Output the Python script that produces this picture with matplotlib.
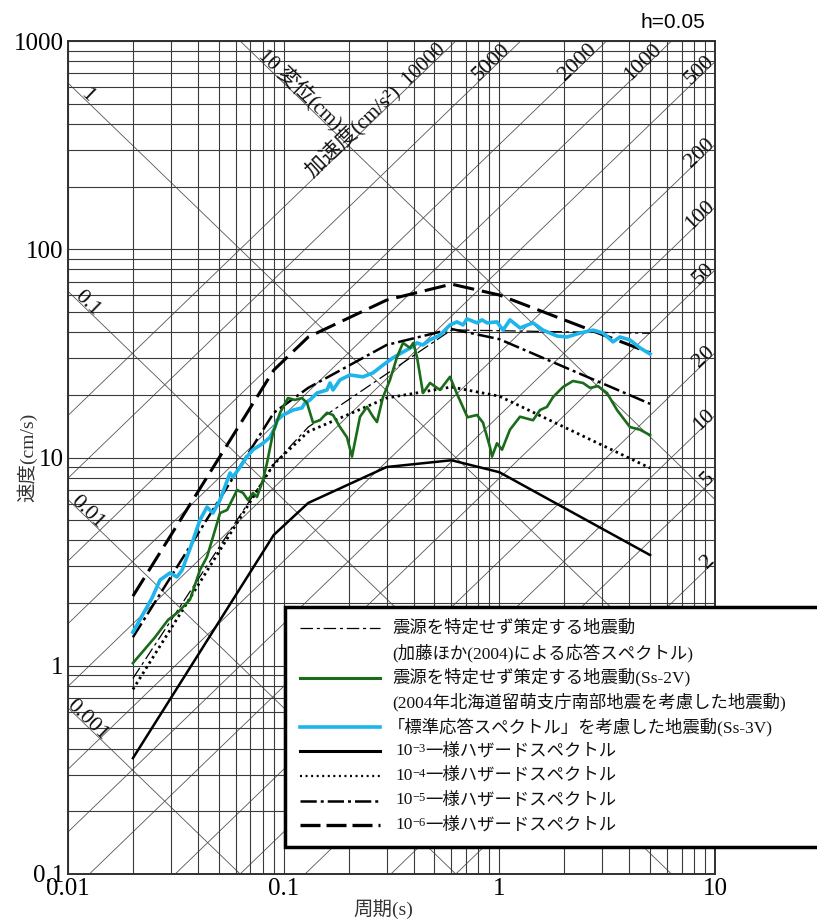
import numpy as np
import matplotlib
matplotlib.use("Agg")
import matplotlib.pyplot as plt
from matplotlib import ticker
from matplotlib.patches import Rectangle
from matplotlib.lines import Line2D
from matplotlib.text import Annotation

SERIF = ['Liberation Serif', 'Noto Sans CJK JP', 'DejaVu Sans']
plt.rcParams['font.family'] = SERIF

# ---- data (period s, pseudo velocity cm/s) ----
haz_T = [0.02, 0.09, 0.13, 0.3, 0.6, 1.0, 5.0]
haz_1e3 = [0.36, 4.25, 6.05, 9.0, 9.7, 8.5, 3.4]
haz_1e4 = [0.77, 9.3, 13.3, 19.3, 21.8, 19.7, 8.9]
haz_1e5 = [1.37, 16.4, 21.6, 34.7, 41.4, 37.0, 18.1]
haz_1e6 = [2.16, 26.3, 37.9, 57.0, 68.0, 60.3, 31.8]

kato_T = [0.02, 0.09, 0.13, 0.6, 5.0]
kato_V = [0.87, 9.3, 14.0, 41.0, 39.5]

ss2v_T = [0.02, 0.0253, 0.0291, 0.0324, 0.0368, 0.0409, 0.0441, 0.047, 0.0507,
          0.0547, 0.0608, 0.0648, 0.0683, 0.0721, 0.0752, 0.0802, 0.0837, 0.0892,
          0.0962, 0.1047, 0.1128, 0.1216, 0.1283, 0.1368, 0.1474, 0.1588, 0.1693,
          0.1825, 0.1966, 0.2074, 0.2259, 0.2435, 0.2597, 0.2708, 0.2888, 0.3112,
          0.3355, 0.3575, 0.3851, 0.3993, 0.4151, 0.4426, 0.477, 0.5307, 0.5905,
          0.6364, 0.712, 0.7877, 0.84, 0.905, 0.925, 0.975, 1.029, 1.12, 1.247,
          1.433, 1.544, 1.663, 1.774, 1.973, 2.195, 2.443, 2.633, 2.868, 3.157,
          3.513, 4.034, 4.489, 5.0]
ss2v_V = [1.03, 1.37, 1.66, 1.81, 2.08, 2.88, 3.33, 4.15, 5.41,
          5.6, 6.98, 6.76, 6.25, 6.76, 6.46, 7.8, 9.41, 13.1,
          16.4, 19.3, 18.9, 19.3, 18.3, 14.7, 15.1, 16.4, 16.0,
          14.0, 12.5, 10.1, 15.7, 17.5, 15.7, 14.8, 19.5, 23.6,
          30.4, 35.5, 33.6, 35.5, 30.4, 20.4, 22.8, 21.1, 24.4,
          20.2, 15.6, 16.0, 14.7, 11.2, 10.1, 11.7, 10.9, 13.6, 15.7,
          15.1, 16.9, 17.5, 19.5, 21.8, 23.3, 22.8, 21.6, 22.0, 20.4,
          16.9, 14.0, 13.6, 12.8]

ss3v_T = [0.02, 0.0245, 0.0267, 0.0297, 0.032, 0.0338, 0.0376, 0.0409, 0.0441,
          0.047, 0.0507, 0.0564, 0.0582, 0.0628, 0.0676, 0.0721, 0.0802, 0.0864,
          0.0912, 0.0931, 0.0993, 0.1105, 0.1216, 0.1256, 0.1325, 0.1427, 0.1588,
          0.164, 0.1693, 0.1825, 0.203, 0.2333, 0.2597, 0.2888, 0.3213, 0.3575,
          0.3936, 0.4151, 0.4426, 0.477, 0.5307, 0.5905, 0.6364, 0.6785, 0.708,
          0.7877, 0.831, 0.8766, 0.9752, 1.04, 1.12, 1.247, 1.433, 1.594, 1.851,
          2.059, 2.366, 2.719, 3.024, 3.365, 3.626, 4.034, 4.489, 5.0]
ss3v_V = [1.45, 2.11, 2.58, 2.79, 2.67, 2.88, 3.88, 5.01, 5.78,
          5.41, 6.25, 8.43, 8.06, 9.0, 10.1, 10.9, 11.7, 12.5,
          14.0, 15.1, 16.0, 16.9, 17.3, 18.3, 18.9, 20.4, 21.1,
          22.8, 21.1, 23.6, 24.9, 24.4, 25.5, 27.8, 30.1, 32.1,
          33.9, 35.5, 34.7, 36.7, 38.7, 43.3, 44.8, 43.3, 46.3,
          44.3, 45.8, 44.3, 44.8, 40.9, 45.8, 41.9, 44.3, 40.9, 38.3,
          37.9, 39.6, 40.9, 39.6, 35.9, 37.9, 36.7, 33.6, 31.4]

acc_lines = [1, 2, 5, 10, 20, 50, 100, 200, 500, 1000, 2000, 5000, 10000]
disp_lines = [0.001, 0.01, 0.1, 1, 10]
acc_top_labels = [5000, 2000, 1000]
acc_right_labels = [500, 200, 100, 50, 20, 10, 5, 2]
disp_left_labels = [1, 0.1, 0.01, 0.001]

W, H = 817, 923
fx = lambda p: p / W
fy = lambda p: 1 - p / H

fig = plt.figure(figsize=(W / 100, H / 100), dpi=100)
ax = fig.add_axes([fx(68), fy(874), (715 - 68) / W, (874 - 41) / H])
ax.set_xscale('log')
ax.set_yscale('log')
ax.set_xlim(0.01, 10)
ax.set_ylim(0.1, 1000)

for a in (ax.xaxis, ax.yaxis):
    a.set_major_locator(ticker.LogLocator(base=10, numticks=10))
    a.set_minor_locator(ticker.LogLocator(base=10, subs=np.arange(2, 10), numticks=30))
    a.set_major_formatter(ticker.FuncFormatter(lambda v, p: f'{v:g}'))
    a.set_minor_formatter(ticker.NullFormatter())
ax.grid(True, which='both', color='#3a3a3a', lw=0.8, zorder=0)
ax.tick_params(which='both', length=0, labelsize=18, pad=3)
for s in ax.spines.values():
    s.set_linewidth(1.4)
    s.set_color('#303030')

# tripartite diagonals
Tg = np.array([0.01, 10.0])
for a in acc_lines:
    ax.plot(Tg, a * Tg / (2 * np.pi), color='#555555', lw=0.6, zorder=1)
for d in disp_lines:
    ax.plot(Tg, 2 * np.pi * d / Tg, color='#555555', lw=0.6, zorder=1)

# screen angle of the diagonals
ang = np.degrees(np.arctan(((874 - 41) / 4) / ((715 - 68) / 3)))
lab = dict(fontsize=16, rotation_mode='anchor', va='baseline', color='#111111')

v_top = 1000 * 10 ** (-0.045)
ax.text(2 * np.pi * v_top / 10000, v_top, '加速度(cm/s²)  10000', ha='right',
        rotation=ang, **{**lab, 'fontsize': 15})
for a in acc_top_labels:
    ax.text(2 * np.pi * v_top / a, v_top, f'{a}', ha='right', rotation=ang, **lab)
for a in acc_right_labels:
    ax.text(10, a * 10 / (2 * np.pi), f'{a}', ha='right', rotation=ang, **lab)
t_d = 0.0119
for d in disp_left_labels:
    ax.text(t_d, 2 * np.pi * d / t_d, f'{d:g}', ha='center', rotation=-ang, **lab)
ax.text(0.0752, 2 * np.pi * 10 / 0.0752, '10 変位(cm)', ha='left',
        rotation=-ang, **{**lab, 'fontsize': 15})

# spectra
ax.plot(haz_T, haz_1e3, color='black', lw=1.8, zorder=3)
ax.plot(haz_T, haz_1e4, color='black', lw=2.0, ls=(0, (0.9, 1.3)), zorder=3)
ax.plot(haz_T, haz_1e5, color='black', lw=1.8, ls=(0, (6.5, 1.6, 1.2, 1.6)), zorder=3)
ax.plot(haz_T, haz_1e6, color='black', lw=2.2, ls=(0, (7, 2.6)), zorder=3)
ax.plot(kato_T, kato_V, color='black', lw=0.9, ls=(0, (10, 3, 2.5, 3)), zorder=3)
ax.plot(ss3v_T, ss3v_V, color='#1eb4ec', lw=2.6, zorder=4)
ax.plot(ss2v_T, ss2v_V, color='#1a6b1a', lw=1.9, zorder=5)

# legend box (drawn by hand to keep two-line labels)
fig.add_artist(Rectangle((fx(285), fy(847)), fx(835) - fx(285), (847 - 607) / H,
                         transform=fig.transFigure, facecolor='white',
                         edgecolor='black', lw=2.5, zorder=10))
rows = [628.3 + 24.6 * i for i in range(9)]
handles = {
    0: dict(color='black', lw=0.9, ls=(0, (10, 3, 2.5, 3))),
    2: dict(color='#1a6b1a', lw=2.2),
    4: dict(color='#1eb4ec', lw=2.6),
    5: dict(color='black', lw=2.2),
    6: dict(color='black', lw=1.6, ls=(0, (0.9, 1.6))),
    7: dict(color='black', lw=1.8, ls=(0, (6.5, 1.6, 1.2, 1.6))),
    8: dict(color='black', lw=2.4, ls=(0, (6, 1.8))),
}
for i, st in handles.items():
    fig.add_artist(Line2D([fx(300), fx(380)], [fy(rows[i])] * 2,
                          transform=fig.transFigure, zorder=11, **st))

ltxt = dict(fontsize=12.5, va='center', ha='left', color='#111111', zorder=12)
lines_txt = {
    0: '震源を特定せず策定する地震動',
    1: '(加藤ほか(2004)による応答スペクトル)',
    2: '震源を特定せず策定する地震動(Ss-2V)',
    3: '(2004年北海道留萌支庁南部地震を考慮した地震動)',
    4: '「標準応答スペクトル」を考慮した地震動(Ss-3V)',
}
for i, s in lines_txt.items():
    fig.text(fx(392 if i != 4 else 388), fy(rows[i]), s, **ltxt)
for i, ex in zip([5, 6, 7, 8], ['−3', '−4', '−5', '−6']):
    t1 = fig.text(fx(395), fy(rows[i]), '10', **ltxt)
    t2 = fig.add_artist(Annotation(ex, xy=(1.0, 1.02), xycoords=t1, fontsize=9,
                                   ha='left', va='top', color='#111111', zorder=12))
    fig.add_artist(Annotation('一様ハザードスペクトル', xy=(1.0, 0.5),
                              xycoords=(t2, t1), fontsize=12.5, ha='left',
                              va='center', color='#111111', zorder=12))

fig.text(fx(705), fy(22), 'h=0.05', ha='right', va='center', fontsize=15,
         family='Liberation Sans')
fig.text(fx(383), fy(909), '周期(s)', ha='center', va='center', fontsize=14,
         color='#333333')
fig.text(fx(27), fy(457), '速度(cm/s)', ha='center', va='center', fontsize=14,
         rotation=90, color='#333333')

fig.savefig('out.png', dpi=100)
